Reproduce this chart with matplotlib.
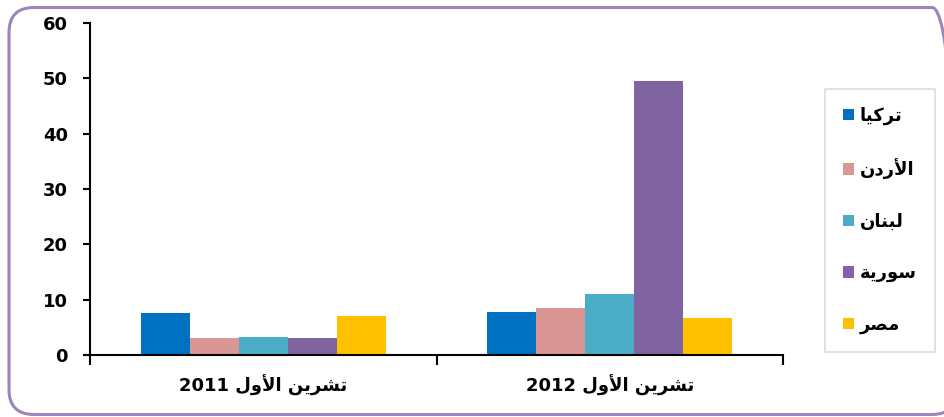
import matplotlib
matplotlib.use("Agg")
import matplotlib.pyplot as plt
import numpy as np
from matplotlib.patches import FancyBboxPatch
from matplotlib.transforms import Bbox

plt.rcParams['savefig.bbox'] = 'standard'
plt.rcParams['figure.dpi'] = 100
plt.rcParams['savefig.dpi'] = 100

# ---------------- data ----------------
categories = ["تشرين الأول 2011", "تشرين الأول 2012"]
series_names = ["تركيا", "الأردن", "لبنان", "سورية", "مصر"]
turkey = [7.6, 7.7]
jordan = [3.1, 8.5]
lebanon = [3.3, 11.0]
syria = [3.1, 49.6]
egypt = [7.0, 6.7]
colors = ["#0070C0", "#D99694", "#4BACC6", "#8064A2", "#FFC000"]
yticks = [0, 10, 20, 30, 40, 50, 60]

# ------------- minimal Arabic shaping (presentation forms) -------------
FORMS = {
    '\u0627': ('\uFE8D', '\uFE8E', None, None),
    '\u0623': ('\uFE83', '\uFE84', None, None),
    '\u0628': ('\uFE8F', '\uFE90', '\uFE91', '\uFE92'),
    '\u0629': ('\uFE93', '\uFE94', None, None),
    '\u062A': ('\uFE95', '\uFE96', '\uFE97', '\uFE98'),
    '\u062F': ('\uFEA9', '\uFEAA', None, None),
    '\u0631': ('\uFEAD', '\uFEAE', None, None),
    '\u0633': ('\uFEB1', '\uFEB2', '\uFEB3', '\uFEB4'),
    '\u0634': ('\uFEB5', '\uFEB6', '\uFEB7', '\uFEB8'),
    '\u0635': ('\uFEB9', '\uFEBA', '\uFEBB', '\uFEBC'),
    '\u0643': ('\uFED9', '\uFEDA', '\uFEDB', '\uFEDC'),
    '\u0644': ('\uFEDD', '\uFEDE', '\uFEDF', '\uFEE0'),
    '\u0645': ('\uFEE1', '\uFEE2', '\uFEE3', '\uFEE4'),
    '\u0646': ('\uFEE5', '\uFEE6', '\uFEE7', '\uFEE8'),
    '\u0648': ('\uFEED', '\uFEEE', None, None),
    '\u064A': ('\uFEF1', '\uFEF2', '\uFEF3', '\uFEF4'),
    'LA_HAMZA': ('\uFEF7', '\uFEF8', None, None),
    'LA': ('\uFEFB', '\uFEFC', None, None),
}


def shape_rtl(text):
    toks = []
    i = 0
    while i < len(text):
        c = text[i]
        if c == '\u0644' and i + 1 < len(text) and text[i + 1] in ('\u0623', '\u0627'):
            toks.append('LA_HAMZA' if text[i + 1] == '\u0623' else 'LA')
            i += 2
            continue
        toks.append(c)
        i += 1
    out = []
    for k, t in enumerate(toks):
        if t not in FORMS:
            out.append(t)
            continue
        prev = toks[k - 1] if k > 0 else None
        nxt = toks[k + 1] if k + 1 < len(toks) else None
        jp = prev in FORMS and FORMS[prev][2] is not None
        jn = FORMS[t][2] is not None and nxt in FORMS
        iso, fin, ini, med = FORMS[t]
        if jp and jn:
            out.append(med)
        elif jp:
            out.append(fin)
        elif jn:
            out.append(ini)
        else:
            out.append(iso)
    return ''.join(reversed(out))


def visual_label(s):
    parts = s.split(' ')
    digits = [p for p in parts if p.isdigit()]
    arabic = ' '.join(p for p in parts if not p.isdigit())
    return (' '.join(digits) + ' ' + shape_rtl(arabic)).strip()


FAM = ['DejaVu Sans']

# ---------------- figure ----------------
fig = plt.figure(figsize=(9.44, 4.17), dpi=100)
ax = fig.add_axes([90 / 944, 1 - 355 / 417, (783 - 90) / 944, (355 - 23) / 417])

series = [turkey, jordan, lebanon, syria, egypt]
x = np.arange(len(categories))
w = 0.1416
for j, (vals, col, name) in enumerate(zip(series, colors, series_names)):
    ax.bar(x + (j - 2) * w, vals, width=w, color=col, label=shape_rtl(name), zorder=2)

ax.set_xlim(-0.5, 1.5)
ax.set_ylim(0, 60)
ax.set_yticks(yticks)
ax.set_yticklabels([str(v) for v in yticks], fontsize=13, fontweight='bold', family=FAM)
ax.tick_params(axis='y', direction='out', length=5, width=1.5, pad=11)

ax.set_xticks([-0.5, 0.5, 1.5])
ax.set_xticklabels([])
ax.tick_params(axis='x', which='major', direction='out', length=7, width=1.5)
ax.set_xticks(x, minor=True)
ax.set_xticklabels([visual_label(c) for c in categories], minor=True,
                   fontsize=13, fontweight='bold', family=FAM)
ax.tick_params(axis='x', which='minor', length=0, pad=14)

for s in ['top', 'right']:
    ax.spines[s].set_visible(False)
for s in ['left', 'bottom']:
    ax.spines[s].set_linewidth(1.5)
    ax.spines[s].set_color('black')

leg = fig.legend(loc='center', bbox_to_anchor=(880 / 944, 1 - 220.5 / 417),
                 bbox_transform=fig.transFigure, frameon=True, fancybox=False,
                 edgecolor='#d5cde3', handlelength=0.6, handleheight=0.6,
                 handletextpad=0.3, labelspacing=1.85, borderpad=1.0,
                 prop={'family': FAM, 'weight': 'bold', 'size': 13})
leg.get_frame().set_linewidth(1.2)

# rounded frame (figure-fraction coords, aspect-corrected rounding)
fw, fh = 944.0, 417.0
border = FancyBboxPatch((9 / fw, 2.5 / fh), (957 - 9) / fw, (409.5 - 2.5) / fh,
                        boxstyle='round,pad=0,rounding_size=%f' % (25 / fw),
                        mutation_aspect=fw / fh,
                        transform=fig.transFigure, facecolor='none',
                        edgecolor='#9a86bd', linewidth=2.2)
border.set_in_layout(False)
fig.add_artist(border)

fig.savefig('out.png', dpi=100, bbox_inches=Bbox([[0, 0], [9.44, 4.17]]))
